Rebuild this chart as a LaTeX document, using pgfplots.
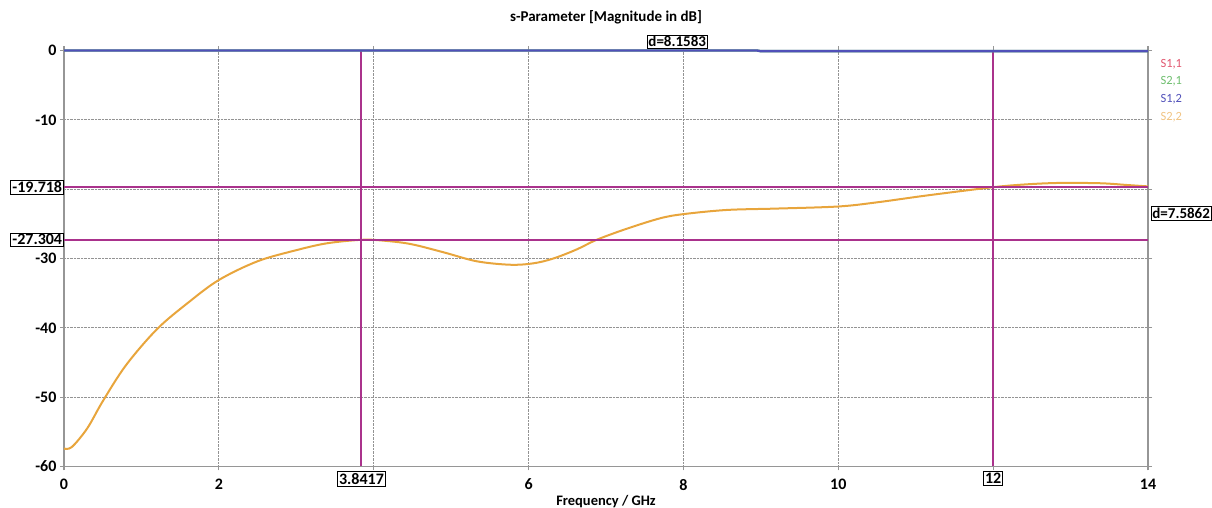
\documentclass[border=0pt]{standalone}
\usepackage{fontspec}
\setmainfont{Carlito}
\usepackage{pgfplots}
\pgfplotsset{compat=1.18}
\definecolor{mkr}{RGB}{170,50,140}
\definecolor{axgray}{RGB}{150,150,150}
\definecolor{sonetwo}{RGB}{80,80,185}
\definecolor{stwotwo}{RGB}{232,165,60}
\definecolor{soneone}{RGB}{225,85,110}
\definecolor{stwoone}{RGB}{110,190,110}
\definecolor{stwotwol}{RGB}{240,195,130}
\begin{document}
\begin{tikzpicture}
\path[use as bounding box] (0pt,0pt) rectangle (1212pt,508pt);
\begin{axis}[
  at={(64pt,41.5pt)}, anchor=south west,
  scale only axis, width=1084pt, height=416pt,
  xmin=0, xmax=14, ymin=-60, ymax=0,
  clip=false,
  axis line style={draw=axgray, line width=1.8pt},
  xtick={0,2,4,6,8,10,12,14}, xticklabels={0,2,,6,8,10,,14},
  ytick={-60,-50,-40,-30,-20,-10,0}, yticklabels={-60,-50,-40,-30,,-10,0},
  extra x ticks={3.8417,12}, extra x tick labels={3.8417,12},
  extra y ticks={-19.718,-27.304}, extra y tick labels={-19.718,-27.304},
  extra tick style={grid=none, major tick length=0pt,
    tick label style={draw=black, line width=0.8pt, fill=white, inner sep=1.5pt}},
  grid=major, grid style={densely dotted, line width=1pt, color=gray!85},
  tick align=outside, major tick length=4pt,
  tick style={draw=axgray, line width=1.2pt},
  ticklabel style={font=\fontsize{16}{19}\selectfont\bfseries},
  xticklabel style={yshift=-5pt},
  /pgf/number format/assume math mode=true,
  xlabel={Frequency / GHz},
  xlabel style={font=\fontsize{14.5}{16}\selectfont\bfseries, yshift=5.5pt},
]
\addplot[stwotwo, line width=2pt, smooth, tension=0.55] coordinates {
(0,-57.4) (0.1,-57.2) (0.3,-54.5) (0.5,-50.6) (0.8,-45.4) (1.2,-40.2) (1.6,-36.4)
(2.0,-33.1) (2.5,-30.4) (3.0,-28.8) (3.4,-27.8) (3.8417,-27.304) (4.1,-27.4)
(4.47,-27.9) (4.9,-29.1) (5.33,-30.4) (5.76,-30.9) (6.06,-30.7) (6.32,-30.0)
(6.62,-28.7) (6.88,-27.3) (7.27,-25.7) (7.7,-24.2) (8.0,-23.6) (8.56,-23.0)
(9.2,-22.8) (10.0,-22.5) (10.5,-21.9) (11.15,-20.9) (12.0,-19.718) (12.44,-19.3)
(12.87,-19.1) (13.39,-19.15) (13.73,-19.4) (14,-19.6)};
\addplot[mkr, line width=2pt] coordinates {(3.8417,-60) (3.8417,0)};
\addplot[mkr, line width=2pt] coordinates {(12,-60) (12,0)};
\addplot[mkr, line width=2pt] coordinates {(0,-19.718) (14,-19.718)};
\addplot[mkr, line width=2pt] coordinates {(0,-27.304) (14,-27.304)};
\addplot[stwoone, line width=2.4pt] coordinates {(0,0) (8.95,0) (9.0,-0.1) (14,-0.1)};
\addplot[sonetwo, line width=2.4pt] coordinates {(0,0) (8.95,0) (9.0,-0.1) (14,-0.1)};
\node[draw=black, line width=0.8pt, fill=white, inner sep=1.5pt, anchor=south,
  font=\fontsize{15}{17}\selectfont\bfseries, yshift=1.5pt] at (axis cs:7.92,0) {d=8.1583};
\node[draw=black, line width=0.8pt, fill=white, inner sep=1.5pt, anchor=west,
  font=\fontsize{15}{17}\selectfont\bfseries, xshift=2.5pt] at (axis cs:14,-23.511) {d=7.5862};
\end{axis}
\node[font=\fontsize{15}{18}\selectfont\bfseries] at (606pt,491pt) {s-Parameter [Magnitude in dB]};
\node[anchor=west, text=soneone, font=\fontsize{12.5}{14}\selectfont] at (1157pt,444pt) {S1,1};
\node[anchor=west, text=stwoone, font=\fontsize{12.5}{14}\selectfont] at (1157pt,427pt) {S2,1};
\node[anchor=west, text=sonetwo, font=\fontsize{12.5}{14}\selectfont] at (1157pt,409pt) {S1,2};
\node[anchor=west, text=stwotwol, font=\fontsize{12.5}{14}\selectfont] at (1157pt,391pt) {S2,2};
\end{tikzpicture}
\end{document}
